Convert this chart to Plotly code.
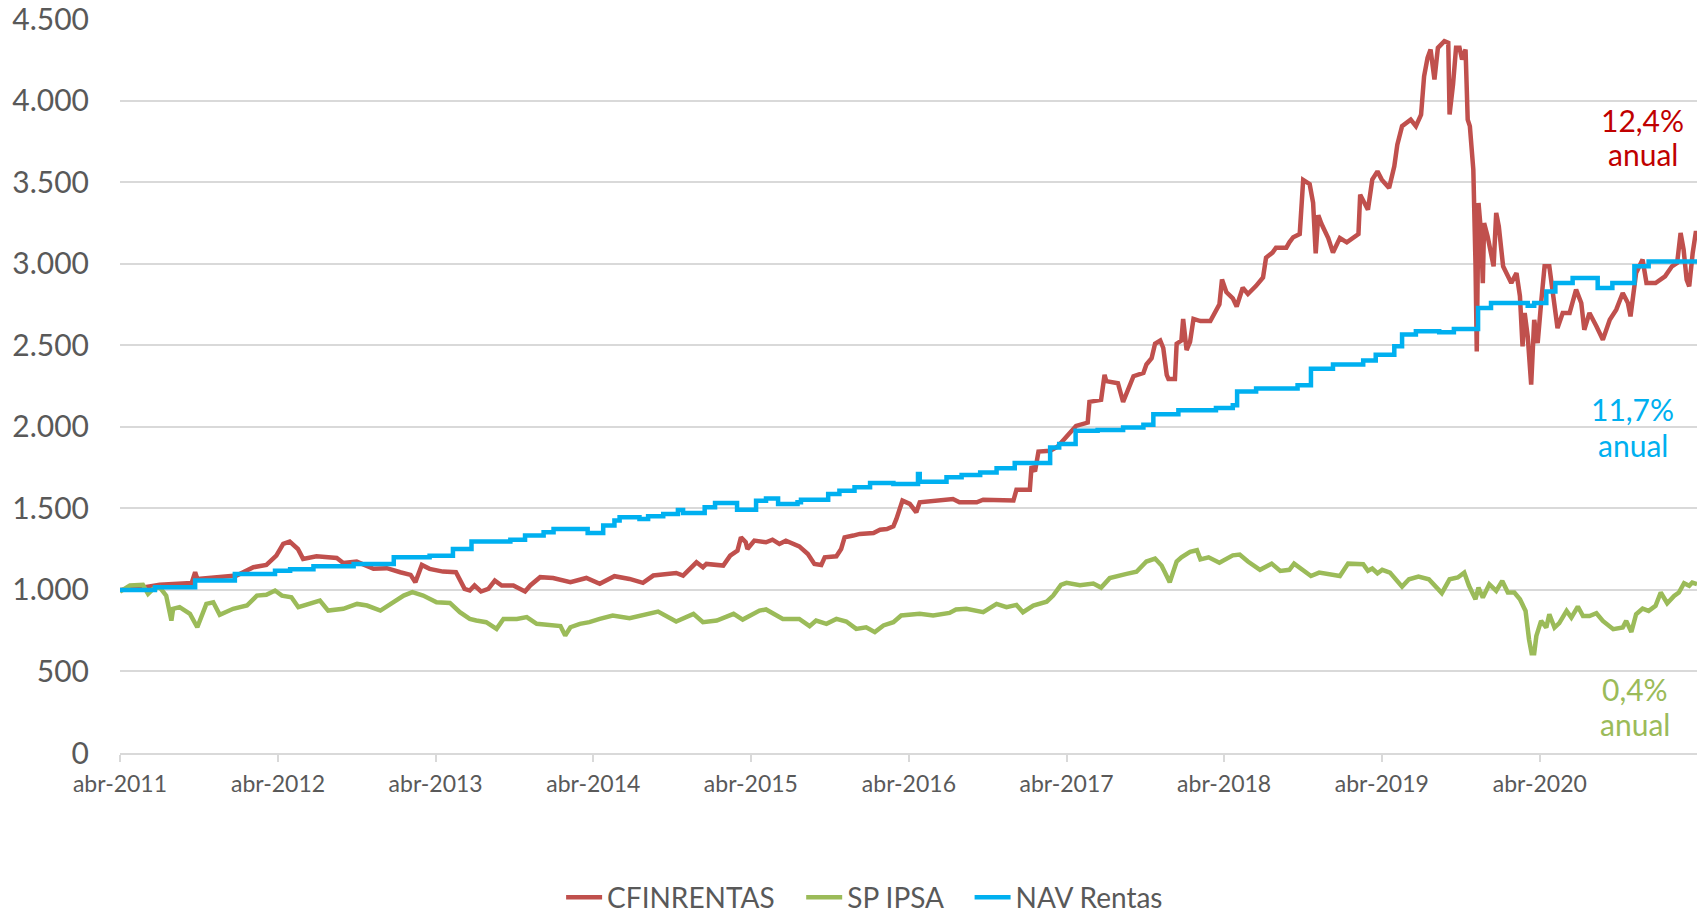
import plotly.graph_objects as go

# ---------------- data ----------------
red_dates = ["2011-04-01","2011-05-15","2011-07-02","2011-09-14","2011-09-22","2011-09-27","2011-12-27","2012-02-04","2012-03-05","2012-03-28",
"2012-04-13","2012-04-28","2012-05-17","2012-05-29","2012-06-29","2012-08-15","2012-08-30","2012-09-30","2012-11-08","2012-12-09",
"2013-01-09","2013-02-02","2013-02-13","2013-02-28","2013-03-18","2013-04-18","2013-05-18","2013-05-26","2013-06-07","2013-06-19",
"2013-06-30","2013-07-15","2013-08-01","2013-08-16","2013-09-01","2013-09-28","2013-10-25","2013-11-06","2013-11-29","2013-12-29",
"2014-02-07","2014-03-16","2014-04-16","2014-05-20","2014-06-24","2014-07-25","2014-08-18","2014-10-10","2014-10-26","2014-11-26",
"2014-12-11","2014-12-19","2015-01-27","2015-02-12","2015-03-01","2015-03-09","2015-03-20","2015-03-24","2015-04-09","2015-05-06",
"2015-05-21","2015-06-06","2015-06-21","2015-07-22","2015-08-11","2015-08-26","2015-09-11","2015-09-19","2015-10-16","2015-10-27",
"2015-11-04","2015-11-24","2015-12-09","2016-01-10","2016-01-25","2016-02-10","2016-02-25","2016-03-03","2016-03-17","2016-04-03",
"2016-04-18","2016-04-26","2016-05-27","2016-07-12","2016-07-27","2016-09-05","2016-09-20","2016-11-29","2016-12-06","2017-01-06",
"2017-01-10","2017-01-18","2017-01-26","2017-02-22","2017-03-11","2017-04-04","2017-04-23","2017-05-20","2017-05-24","2017-06-20",
"2017-06-28","2017-07-02","2017-07-29","2017-08-10","2017-08-18","2017-09-03","2017-09-26","2017-10-03","2017-10-15","2017-10-23",
"2017-11-04","2017-11-11","2017-11-19","2017-11-23","2017-12-08","2017-12-12","2017-12-23","2017-12-27","2018-01-04","2018-01-12",
"2018-01-20","2018-02-05","2018-02-28","2018-03-09","2018-03-21","2018-03-27","2018-04-06","2018-04-21","2018-04-30","2018-05-14",
"2018-05-26","2018-06-14","2018-06-30","2018-07-07","2018-07-22","2018-07-30","2018-08-23","2018-08-30","2018-09-08","2018-09-23",
"2018-10-01","2018-10-16","2018-10-24","2018-10-30","2018-11-05","2018-11-12","2018-11-28","2018-12-09","2018-12-25","2019-01-10",
"2019-01-25","2019-02-06","2019-02-10","2019-02-28","2019-03-10","2019-03-22","2019-04-01","2019-04-18","2019-04-30","2019-05-07",
"2019-05-18","2019-06-07","2019-06-19","2019-07-01","2019-07-08","2019-07-16","2019-07-23","2019-08-01","2019-08-09","2019-08-24",
"2019-09-02","2019-09-05","2019-09-13","2019-09-20","2019-09-28","2019-10-04","2019-10-12","2019-10-17","2019-10-22","2019-10-30",
"2019-11-04","2019-11-07","2019-11-11","2019-11-17","2019-11-21","2019-11-24","2019-12-02","2019-12-10","2019-12-16","2019-12-22",
"2019-12-28","2020-01-07","2020-01-15","2020-01-26","2020-02-07","2020-02-15","2020-02-21","2020-02-26","2020-03-04","2020-03-12",
"2020-03-19","2020-03-27","2020-04-04","2020-04-12","2020-04-23","2020-05-01","2020-05-12","2020-05-24","2020-06-09","2020-06-24",
"2020-07-06","2020-07-13","2020-07-25","2020-08-10","2020-08-25","2020-09-10","2020-09-25","2020-10-10","2020-10-22","2020-10-28",
"2020-11-10","2020-11-25","2020-12-04","2020-12-25","2021-01-16","2021-02-01","2021-02-13","2021-02-21","2021-02-28","2021-03-07",
"2021-03-13","2021-03-21","2021-03-28","2021-03-31"]
red_values = [1000,1010,1031,1043,1108,1067,1088,1139,1153,1210,
1282,1296,1251,1190,1206,1196,1165,1173,1129,1133,
1108,1092,1047,1153,1129,1112,1108,1067,1006,996,
1027,990,1006,1057,1027,1027,990,1027,1078,1073,
1047,1073,1037,1084,1067,1043,1088,1104,1088,1169,
1139,1159,1149,1210,1241,1322,1292,1251,1302,1292,
1308,1282,1302,1267,1220,1159,1153,1200,1206,1251,
1322,1333,1343,1349,1369,1373,1390,1435,1547,1527,
1476,1537,1547,1557,1537,1537,1553,1548,1614,1614,
1759,1726,1848,1853,1878,1949,2005,2026,2153,2165,
2318,2280,2267,2153,2204,2310,2330,2382,2420,2509,
2529,2483,2318,2293,2293,2509,2529,2661,2470,2521,
2661,2648,2648,2687,2750,2903,2826,2788,2737,2852,
2814,2864,2915,3037,3068,3098,3098,3131,3162,3182,
3513,3487,3373,3063,3297,3246,3157,3068,3157,3131,
3157,3182,3423,3331,3515,3566,3515,3464,3597,3730,
3843,3883,3843,3914,4149,4262,4313,4129,4323,4364,
4354,3914,4098,4323,4323,4252,4313,3883,3843,3577,
3004,2462,3372,3188,2881,3249,3168,3065,2984,3311,
3229,2984,2943,2881,2943,2800,2493,2698,2554,2258,
2656,2513,2759,2984,2984,2820,2605,2698,2698,2841,
2759,2595,2698,2616,2534,2656,2718,2820,2759,2677,
2943,3025,2881,2881,2922,2984,3004,3188,3086,2902,
2861,3065,3188,3188]

green_dates = ["2011-04-01","2011-04-24","2011-05-24","2011-06-05","2011-06-17","2011-07-02","2011-07-17","2011-07-29","2011-08-02","2011-08-17",
"2011-09-10","2011-09-27","2011-10-18","2011-11-03","2011-11-18","2011-12-19","2012-01-20","2012-02-12","2012-03-05","2012-03-25",
"2012-04-10","2012-05-02","2012-05-18","2012-06-14","2012-07-07","2012-07-26","2012-08-30","2012-10-01","2012-10-24","2012-11-24",
"2012-12-25","2013-01-17","2013-02-06","2013-03-03","2013-04-03","2013-05-04","2013-05-27","2013-06-19","2013-07-04","2013-07-27",
"2013-08-20","2013-09-05","2013-10-06","2013-10-29","2013-11-21","2013-12-22","2014-01-15","2014-01-26","2014-02-07","2014-03-01",
"2014-03-23","2014-04-16","2014-05-16","2014-06-24","2014-07-25","2014-08-29","2014-10-10","2014-11-19","2014-12-11","2015-01-12",
"2015-02-20","2015-03-13","2015-04-21","2015-05-06","2015-06-14","2015-07-22","2015-08-15","2015-08-30","2015-09-23","2015-10-16",
"2015-11-08","2015-12-01","2015-12-24","2016-01-13","2016-02-02","2016-02-25","2016-03-14","2016-04-26","2016-05-27","2016-07-04",
"2016-07-19","2016-08-12","2016-09-20","2016-10-21","2016-11-13","2016-12-06","2016-12-21","2017-01-14","2017-02-14","2017-03-01",
"2017-03-19","2017-04-01","2017-05-02","2017-06-02","2017-06-20","2017-07-10","2017-08-18","2017-09-10","2017-10-03","2017-10-23",
"2017-11-07","2017-11-26","2017-12-12","2017-12-23","2018-01-12","2018-01-28","2018-02-05","2018-02-24","2018-03-21","2018-04-21",
"2018-05-07","2018-05-26","2018-06-23","2018-07-20","2018-08-09","2018-08-30","2018-09-10","2018-09-26","2018-10-19","2018-11-07",
"2018-12-09","2018-12-25","2019-01-13","2019-02-17","2019-02-28","2019-03-10","2019-03-22","2019-04-02","2019-04-20","2019-05-18",
"2019-06-03","2019-06-25","2019-07-19","2019-08-03","2019-08-18","2019-09-05","2019-09-24","2019-10-09","2019-10-20","2019-11-04",
"2019-11-11","2019-11-21","2019-12-06","2019-12-22","2020-01-05","2020-01-18","2020-02-02","2020-02-15","2020-02-23","2020-02-28",
"2020-03-07","2020-03-13","2020-03-19","2020-03-24","2020-04-04","2020-04-16","2020-04-23","2020-05-05","2020-05-16","2020-06-02",
"2020-06-13","2020-06-28","2020-07-10","2020-07-25","2020-08-10","2020-08-25","2020-09-18","2020-10-10","2020-10-18","2020-10-30",
"2020-11-10","2020-11-25","2020-12-09","2020-12-25","2021-01-06","2021-01-21","2021-02-06","2021-02-17","2021-03-01","2021-03-13",
"2021-03-20","2021-03-31"]
green_values = [990,1027,1031,976,1006,1016,965,812,884,894,
853,771,914,924,847,884,904,965,970,996,
965,955,894,920,935,873,884,914,904,873,
924,965,986,965,924,920,863,822,812,802,
761,822,822,833,792,782,778,720,771,792,
802,822,843,826,843,867,806,853,802,812,
853,818,873,880,822,822,778,812,792,822,
806,761,771,741,782,802,843,853,843,859,
880,884,863,914,894,908,863,904,928,965,
1031,1043,1029,1039,1014,1072,1098,1111,1174,1192,
1149,1047,1174,1200,1233,1243,1187,1200,1167,1212,
1217,1174,1123,1161,1116,1123,1161,1131,1085,1106,
1090,1085,1161,1157,1117,1131,1102,1123,1106,1020,
1065,1082,1065,1020,980,1065,1076,1106,1025,943,
1014,953,1035,994,1055,984,984,943,902,871,
697,611,611,718,810,769,851,769,796,871,
830,898,840,840,857,810,759,769,810,742,
851,885,871,902,984,918,963,984,1041,1025,
1045,1035]

blue_dates = ["2011-04-01","2011-06-21","2011-09-22","2011-12-23","2012-03-25","2012-04-29","2012-06-22","2012-09-23","2012-12-25","2013-03-18",
"2013-05-11","2013-06-23","2013-09-21","2013-10-25","2013-12-07","2013-12-30","2014-03-19","2014-04-24","2014-05-20","2014-06-01",
"2014-07-17","2014-08-06","2014-09-10","2014-10-14","2014-10-26","2014-12-15","2015-01-08","2015-02-28","2015-04-13","2015-05-06",
"2015-06-03","2015-07-18","2015-07-26","2015-09-27","2015-10-23","2015-11-27","2016-01-02","2016-02-25","2016-04-22","2016-04-26",
"2016-06-27","2016-08-01","2016-09-13","2016-10-21","2016-12-02","2017-02-22","2017-03-15","2017-04-22","2017-06-12","2017-08-10",
"2017-09-26","2017-10-19","2017-12-16","2018-03-13","2018-04-21","2018-05-01","2018-06-14","2018-09-18","2018-10-19","2018-12-09",
"2019-02-17","2019-03-18","2019-04-30","2019-05-18","2019-06-19","2019-08-12","2019-09-15","2019-11-10","2019-12-10","2020-03-04",
"2020-03-19","2020-04-16","2020-05-07","2020-06-16","2020-08-13","2020-09-16","2020-11-06","2020-12-09","2021-03-31"]
blue_values = [1000,1016,1057,1098,1118,1127,1145,1159,1200,1210,
1251,1296,1308,1333,1353,1373,1349,1394,1425,1445,
1435,1451,1465,1490,1471,1506,1533,1492,1547,1561,
1527,1537,1553,1588,1608,1629,1655,1649,1710,1663,
1690,1704,1720,1745,1778,1873,1894,1975,1980,1995,
2013,2077,2102,2115,2132,2216,2234,2254,2356,2382,
2407,2442,2493,2565,2585,2579,2599,2728,2759,2742,
2759,2830,2881,2912,2851,2881,2984,3014,3020]

tick_dates = ["2011-04-01","2012-04-01","2013-04-01","2014-04-01","2015-04-01",
              "2016-04-01","2017-04-01","2018-04-01","2019-04-01","2020-04-01"]
tick_labels = ["abr-2011","abr-2012","abr-2013","abr-2014","abr-2015",
               "abr-2016","abr-2017","abr-2018","abr-2019","abr-2020"]

series_names = ["CFINRENTAS", "SP IPSA", "NAV Rentas"]
annual_returns = ["12,4%", "0,4%", "11,7%"]

# ---------------- styling ----------------
RED, GREEN, BLUE = "#C0504D", "#9BBB59", "#00B0F0"
FONT = "Lato"
GRID = "#D9D9D9"
TXT = "#595959"
PAD = "\u00a0\u00a0\u00a0"   # extra spacing between legend entries

fig = go.Figure()
fig.add_trace(go.Scatter(x=red_dates, y=red_values, mode="lines", name=series_names[0] + PAD,
                         line=dict(color=RED, width=4.5)))
fig.add_trace(go.Scatter(x=green_dates, y=green_values, mode="lines", name=series_names[1] + PAD,
                         line=dict(color=GREEN, width=4.5)))
fig.add_trace(go.Scatter(x=blue_dates, y=blue_values, mode="lines", name=series_names[2],
                         line=dict(color=BLUE, width=4.5, shape="hv")))

ann = [
    (annual_returns[0], 0.9657, 3878, "#C00000"),
    ("anual", 0.9657, 3670, "#C00000"),
    (annual_returns[2], 0.9594, 2112, BLUE),
    ("anual", 0.9594, 1890, BLUE),
    (annual_returns[1], 0.9607, 394, GREEN),
    ("anual", 0.9607, 179, GREEN),
]
for txt, ax, ay, col in ann:
    fig.add_annotation(x=ax, xref="paper", y=ay, yref="y", text=txt, showarrow=False,
                       xanchor="center", yanchor="middle",
                       font=dict(family=FONT, size=30, color=col))

fig.update_layout(
    width=1702, height=913,
    margin=dict(l=120, r=5, t=19, b=160, autoexpand=False),
    paper_bgcolor="white", plot_bgcolor="white",
    separators=",.",
    font=dict(family=FONT, color=TXT),
    showlegend=True,
    legend=dict(orientation="h", xref="container", yref="container",
                x=0.508, xanchor="center", y=0.017, yanchor="middle",
                font=dict(family=FONT, size=28, color=TXT),
                itemwidth=36, tracegroupgap=0),
    xaxis=dict(type="date", range=["2011-04-01", "2021-03-31"],
               tickvals=tick_dates, ticktext=tick_labels,
               showgrid=False, zeroline=False, automargin=False,
               showline=True, linecolor=GRID, linewidth=1.5,
               ticks="outside", ticklen=7, tickcolor=GRID, tickwidth=1.5,
               tickfont=dict(family=FONT, size=23, color=TXT),
               ticklabelstandoff=3),
    yaxis=dict(range=[0, 4500], dtick=500, tick0=0, tickformat=",d",
               showgrid=True, gridcolor=GRID, gridwidth=1.5,
               zeroline=False, showline=False, ticks="", automargin=False,
               tickfont=dict(family=FONT, size=30, color=TXT),
               ticklabelstandoff=30, ticklabeloverflow="allow"),
)

fig.write_html("out.html", config={"displayModeBar": False},
               post_script="document.body.style.margin='0';document.body.style.overflow='hidden';")
